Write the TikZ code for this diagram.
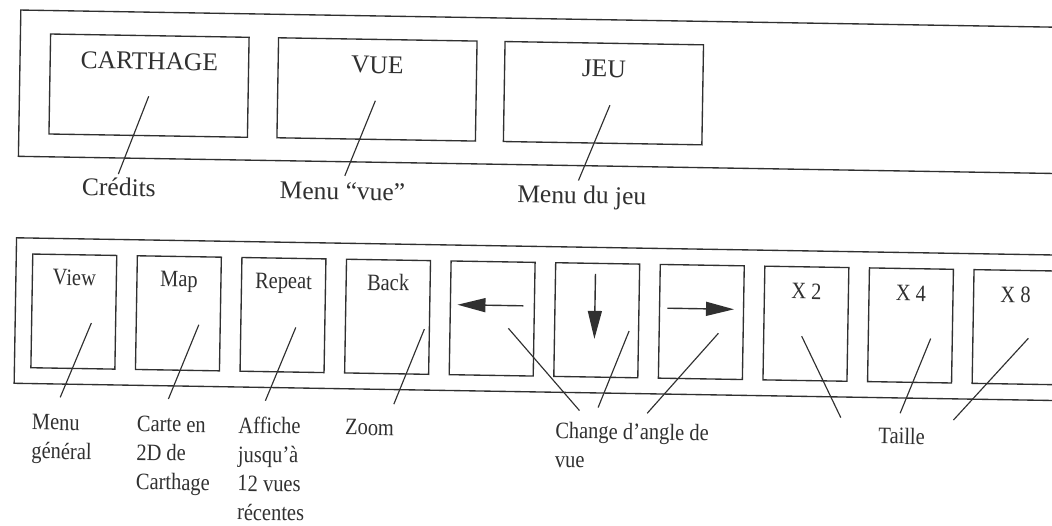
\documentclass[tikz,border=0pt]{standalone}
\usepackage{fontspec}
\setmainfont{Liberation Serif}
\newfontfamily\narrowserif[FakeStretch=0.87]{Liberation Serif}
\usetikzlibrary{calc,arrows.meta}
\definecolor{inkc}{RGB}{48,48,48}
\tikzset{
  ink/.style={draw=inkc, line width=1.35pt},
  topbox/.style={ink, minimum width=198.5pt, minimum height=100pt, anchor=north west, inner sep=0pt},
  botbox/.style={ink, minimum width=84pt, minimum height=113.7pt, anchor=north west, inner sep=0pt},
  toptext/.style={anchor=base, text=inkc, inner sep=0pt, font=\fontsize{25.5}{30}\selectfont},
  bottitle/.style={anchor=base, text=inkc, inner sep=0pt, font=\narrowserif\fontsize{23.5}{29}\selectfont},
  botlabel/.style={anchor=base west, align=left, text=inkc, inner sep=0pt, font=\narrowserif\fontsize{23.5}{29}\selectfont},
  leader/.style={draw=inkc, line width=1.15pt},
  viewarrow/.style={draw=inkc, line width=1.4pt, -{Triangle[length=28pt,width=14pt]}},
}
\begin{document}
\begin{tikzpicture}[x=1pt,y=-1pt]
\useasboundingbox (0,0) rectangle (1052,526);
\clip (0,0) rectangle (1052,526);
\begin{scope}[rotate=-0.95, transform shape]
% ---------- top panel ----------
\draw[ink] (1090,9.7) -- (21,9.7) -- (21,156) -- (1090,156);
\node[topbox] (cA) at (50.5,32.5) {};
\node[topbox] (cB) at (278.5,32.5) {};
\node[topbox] (cC) at (505,32.5) {};
\node[toptext] (tA) at ($(cA.north)+(0,34.5)$) {CARTHAGE};
\node[toptext] (tB) at ($(cB.north)+(0,34.5)$) {VUE};
\node[toptext] (tC) at ($(cC.north)+(0,34.5)$) {JEU};
\node[toptext] (lA) at (122,194) {Crédits};
\node[toptext] (lB) at (345.6,194) {Menu “vue”};
\node[toptext] (lC) at (585,194) {Menu du jeu};
\coordinate (pA1) at (150.3,93.8); \coordinate (pA2) at (121.2,172.1);
\coordinate (pB1) at (377,94.5);   \coordinate (pB2) at (347.7,170.1);
\coordinate (pC1) at (611.6,95.1); \coordinate (pC2) at (581.4,170.9);
\draw[leader] (pA1) -- (pA2);
\draw[leader] (pB1) -- (pB2);
\draw[leader] (pC1) -- (pC2);
% ---------- bottom panel ----------
\draw[ink] (1090,237.5) -- (20.5,237.5) -- (20.5,383) -- (1090,383);
\node[botbox] (b0) at (36.3,252.8) {};
\node[botbox] (b1) at (140.9,252.8) {};
\node[botbox] (b2) at (245.5,252.8) {};
\node[botbox] (b3) at (350.1,252.8) {};
\node[botbox] (b4) at (454.7,252.8) {};
\node[botbox] (b5) at (559.3,252.8) {};
\node[botbox] (b6) at (663.9,252.8) {};
\node[botbox] (b7) at (768.5,252.8) {};
\node[botbox] (b8) at (873.1,252.8) {};
\node[botbox] (b9) at (977.7,252.8) {};
\node[bottitle] (t0) at ($(b0.north)+(0,31.2)$) {View};
\node[bottitle] (t1) at ($(b1.north)+(0,31.2)$) {Map};
\node[bottitle] (t2) at ($(b2.north)+(0,31.2)$) {Repeat};
\node[bottitle] (t3) at ($(b3.north)+(0,31.2)$) {Back};
\node[bottitle] (t7) at ($(b7.north)+(0,33)$) {X 2};
\node[bottitle] (t8) at ($(b8.north)+(0,33)$) {X 4};
\node[bottitle] (t9) at ($(b9.north)+(0,33)$) {X 8};
% arrows inside boxes
\coordinate (aL1) at ($(b4.center)+(31.1,-13.2)$); \coordinate (aL2) at ($(b4.center)+(-34.9,-13.2)$);
\coordinate (aD1) at ($(b5.center)+(-2,-46.3)$);   \coordinate (aD2) at ($(b5.center)+(-2,18.7)$);
\coordinate (aR1) at ($(b6.center)+(-34.1,-13.2)$); \coordinate (aR2) at ($(b6.center)+(32.5,-13.2)$);
\draw[viewarrow] (aL1) -- (aL2);
\draw[viewarrow] (aD1) -- (aD2);
\draw[viewarrow] (aR1) -- (aR2);
% labels (base anchor = baseline of the last line)
\node[botlabel] (m0) at (38.8,458) {Menu\\général};
\node[botlabel] (m1) at (143.8,487) {Carte en\\2D de\\Carthage};
\node[botlabel] (m2) at (245.4,516) {Affiche\\jusqu’à\\12 vues\\récentes};
\node[botlabel] (m3) at (352,429) {Zoom};
\node[botlabel] (m4) at (562.3,458) {Change d’angle de\\vue};
\node[botlabel] (m5) at (885.5,429) {Taille};
% leaders
\coordinate (q01) at (96.7,321.5);  \coordinate (q02) at (66.8,396.3);
\coordinate (q11) at (204.2,321.4); \coordinate (q12) at (175,396.2);
\coordinate (q21) at (301.2,322.5); \coordinate (q22) at (272,396.3);
\coordinate (q31) at (429.8,322);   \coordinate (q32) at (400.5,397.6);
\coordinate (q41) at (513.8,319.9); \coordinate (q42) at (586.2,400.9);
\coordinate (q51) at (634.5,320.6); \coordinate (q52) at (604.8,397.6);
\coordinate (q61) at (723.8,321.4); \coordinate (q62) at (654,402.5);
\coordinate (q71) at (807.2,322.9); \coordinate (q72) at (847.6,403.6);
\coordinate (q81) at (936.2,323.1); \coordinate (q82) at (906.9,398.3);
\coordinate (q91) at (1033.9,321.2); \coordinate (q92) at (960.3,404.2);
\foreach \k in {0,...,9} { \draw[leader] (q\k1) -- (q\k2); }
\end{scope}
\end{tikzpicture}
\end{document}
